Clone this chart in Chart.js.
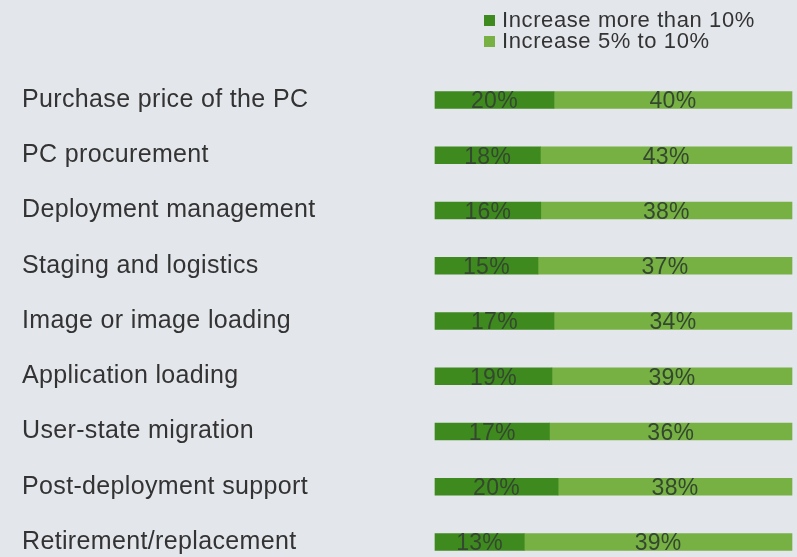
<!DOCTYPE html>
<html>
<head>
<meta charset="utf-8">
<script src="https://cdn.jsdelivr.net/npm/chart.js@4/dist/chart.umd.min.js"></script>
<style>
  html, body { margin: 0; padding: 0; background: #e3e6eb; }
  #wrap { width: 797px; height: 557px; }
</style>
</head>
<body>
<div id="wrap"><canvas id="costChart" width="797" height="557"></canvas></div>
<script>
// Categories and survey values (percent of respondents)
const categories = [
    "Purchase price of the PC",
    "PC procurement",
    "Deployment management",
    "Staging and logistics",
    "Image or image loading",
    "Application loading",
    "User-state migration",
    "Post-deployment support",
    "Retirement/replacement"
];
const moreThan10 = [20, 18, 16, 15, 17, 19, 17, 20, 13];
const from5to10 = [40, 43, 38, 37, 34, 39, 36, 38, 39];
const seriesNames = ["Increase more than 10%", "Increase 5% to 10%"];

// bars are drawn as share of each row's total (every row fills the width)
function share(v, i) {
    return v / (moreThan10[i] + from5to10[i]) * 100;
}

const DARK = '#3f8a1f';
const LIGHT = '#77b144';
const FONT = '"Liberation Sans", Arial, sans-serif';

// slightly wider text for the axis labels, like the original
const wideText = {
    id: 'wideText',
    beforeDraw(chart) {
        chart.ctx.letterSpacing = '0.35px';
    }
};

// draws the percentage numbers on top of each segment
const valueLabels = {
    id: 'valueLabels',
    afterDatasetsDraw(chart) {
        const ctx = chart.ctx;
        ctx.save();
        ctx.letterSpacing = '0.3px';
        ctx.font = '23px ' + FONT;
        ctx.fillStyle = '#33482f';
        ctx.textAlign = 'center';
        ctx.textBaseline = 'middle';
        chart.data.datasets.forEach(function(ds, di) {
            chart.getDatasetMeta(di).data.forEach(function(bar, i) {
                const mid = (bar.x + bar.base) / 2;
                ctx.fillText(ds.raw[i] + '%', mid, bar.y + 2);
            });
        });
        ctx.restore();
    }
};

// small stacked legend at top right
const sideLegend = {
    id: 'sideLegend',
    afterDraw(chart) {
        const ctx = chart.ctx;
        ctx.save();
        ctx.letterSpacing = '0.6px';
        ctx.font = '22px ' + FONT;
        ctx.textBaseline = 'middle';
        chart.data.datasets.forEach(function(ds, di) {
            const y = 21 + di * 21;
            ctx.fillStyle = ds.backgroundColor;
            ctx.fillRect(484, y - 6, 11, 11);
            ctx.fillStyle = '#333333';
            ctx.fillText(ds.label, 502, y);
        });
        ctx.restore();
    }
};

const CTX = document.getElementById('costChart').getContext('2d');

let costChart = new Chart(CTX, {
    type: 'bar',
    data: {
        labels: categories,
        datasets: [{
            label: seriesNames[0],
            data: moreThan10.map(share),
            raw: moreThan10,
            backgroundColor: DARK,
            barThickness: 17,
            clip: false
        }, {
            label: seriesNames[1],
            data: from5to10.map(share),
            raw: from5to10,
            backgroundColor: LIGHT,
            barThickness: 17,
            clip: false
        }]
    },
    options: {
        indexAxis: 'y',
        responsive: false,
        animation: false,
        layout: {
            padding: { left: 22, right: 5, top: 100, bottom: 10 }
        },
        plugins: {
            legend: { display: false },
            tooltip: { enabled: false }
        },
        scales: {
            x: {
                stacked: true,
                display: false,
                min: 0,
                max: 100
            },
            y: {
                stacked: true,
                offset: false,
                grid: { display: false },
                border: { display: false },
                ticks: {
                    crossAlign: 'far',
                    padding: 0,
                    color: '#333333',
                    font: { family: FONT, size: 25 }
                },
                afterFit: function(scale) {
                    scale.width = 413;
                }
            }
        }
    },
    plugins: [wideText, valueLabels, sideLegend]
});
</script>
</body>
</html>
